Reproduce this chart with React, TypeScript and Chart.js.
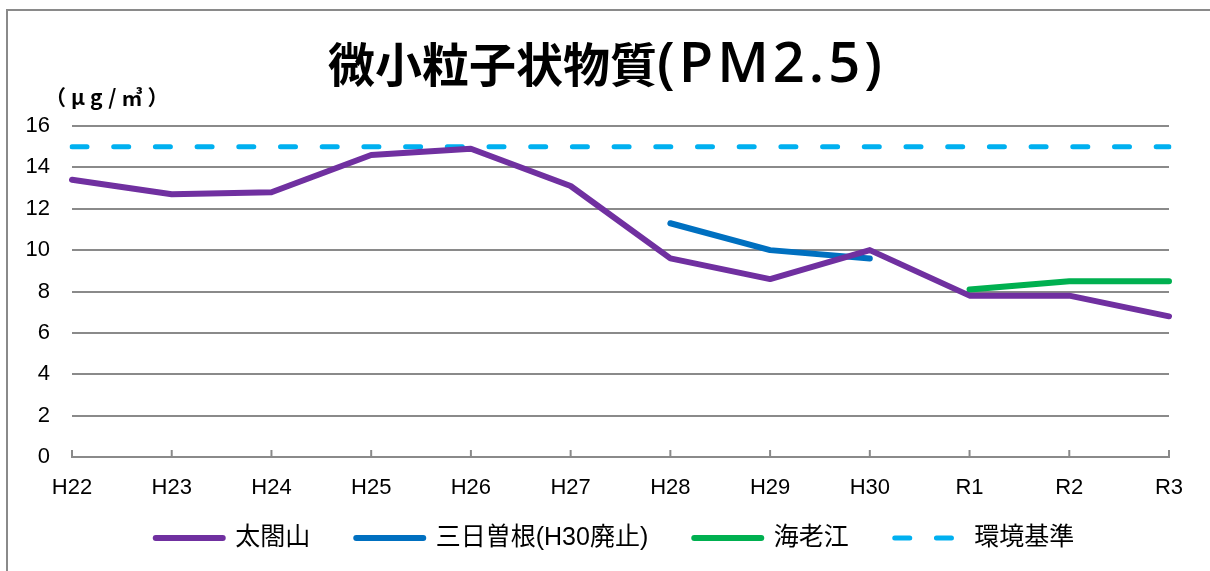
import React, { useEffect, useRef } from "react";
import { Chart, registerables } from "chart.js";

Chart.register(...registerables);

const categories = ["H22", "H23", "H24", "H25", "H26", "H27", "H28", "H29", "H30", "R1", "R2", "R3"];
const taikoyama = [13.4, 12.7, 12.8, 14.6, 14.9, 13.1, 9.6, 8.6, 10.0, 7.8, 7.8, 6.8];
const mikkasone = [null, null, null, null, null, null, 11.3, 10.0, 9.6, null, null, null];
const ebie = [null, null, null, null, null, null, null, null, null, 8.1, 8.5, 8.5];
const standard = [15, 15, 15, 15, 15, 15, 15, 15, 15, 15, 15, 15];
const seriesNames = ["太閤山", "三日曽根(H30廃止)", "海老江", "環境基準"];
const yMin = 0;
const yMax = 16;
const yStep = 2;
const titleMain = "微小粒子状物質";
const titleSub = "(PM2.5)";
const unitText = "（μg/㎥）";

const GRID = "#8a8a8a";
const LATIN = '"Liberation Sans", Arial, "Noto Sans CJK JP", sans-serif';
const LEGEND_PAD = 46;
const LEGEND_FONT = 25;
const LEGEND_CENTER_Y = 538;
const LEGEND_SHIFT = 20;

const extrasPlugin = {
  id: "extras",
  afterLayout(chart: any) {
    const lg = chart.legend;
    if (lg) {
      lg.top = LEGEND_CENTER_Y - LEGEND_PAD - LEGEND_FONT / 2;
      lg.bottom = chart.height;
      lg.height = lg.bottom - lg.top;
      lg.left += LEGEND_SHIFT;
      lg.right = chart.width;
      lg.width = lg.right - lg.left;
    }
  },
  beforeDatasetsDraw(chart: any) {
    const { ctx, chartArea, scales } = chart;
    const xs = scales.x;
    ctx.save();
    ctx.strokeStyle = GRID;
    ctx.lineWidth = 2;
    for (let i = 0; i < xs.ticks.length; i++) {
      const px = xs.getPixelForTick(i);
      ctx.beginPath();
      ctx.moveTo(px, chartArea.bottom);
      ctx.lineTo(px, chartArea.bottom - 7);
      ctx.stroke();
    }
    ctx.restore();
  },
  afterDraw(chart: any) {
    const { ctx, chartArea } = chart;
    // title
    ctx.save();
    ctx.fillStyle = "#000";
    ctx.textAlign = "left";
    ctx.textBaseline = "alphabetic";
    const fontA = 'bold 47px "Noto Sans CJK JP", sans-serif';
    const fontB = '600 56px "Open Sans", "Liberation Sans", sans-serif';
    ctx.font = fontA;
    (ctx as any).letterSpacing = "0px";
    const wA = ctx.measureText(titleMain).width;
    ctx.font = fontB;
    (ctx as any).letterSpacing = "4px";
    const wB = ctx.measureText(titleSub).width;
    const x0 = (chart.width - wA - wB) / 2 + 2;
    ctx.font = fontA;
    (ctx as any).letterSpacing = "0px";
    ctx.fillText(titleMain, x0, 82);
    ctx.font = fontB;
    (ctx as any).letterSpacing = "4px";
    ctx.fillText(titleSub, x0 + wA, 82);
    ctx.restore();

    // unit label
    ctx.save();
    ctx.font = 'bold 21px "Noto Sans CJK JP", sans-serif';
    (ctx as any).letterSpacing = "5px";
    ctx.fillStyle = "#000";
    ctx.textAlign = "left";
    ctx.textBaseline = "middle";
    ctx.fillText(unitText, chartArea.left - 27, chartArea.top - 29);
    ctx.restore();
  },
};

export default function App() {
  const ref = useRef<HTMLCanvasElement | null>(null);
  useEffect(() => {
    if (!ref.current) return;
    const chart = new Chart(ref.current, {
      type: "line",
      data: {
        labels: categories,
        datasets: [
          {
            label: seriesNames[0],
            data: taikoyama,
            borderColor: "#7030A0",
            backgroundColor: "#7030A0",
            borderWidth: 6,
            pointRadius: 0,
            borderJoinStyle: "round",
            borderCapStyle: "round",
          },
          {
            label: seriesNames[1],
            data: mikkasone,
            borderColor: "#0070C0",
            backgroundColor: "#0070C0",
            borderWidth: 6,
            pointRadius: 0,
            borderJoinStyle: "round",
            borderCapStyle: "round",
          },
          {
            label: seriesNames[2],
            data: ebie,
            borderColor: "#00B050",
            backgroundColor: "#00B050",
            borderWidth: 6,
            pointRadius: 0,
            borderJoinStyle: "round",
            borderCapStyle: "round",
          },
          {
            label: seriesNames[3],
            data: standard,
            borderColor: "#00B0F0",
            backgroundColor: "#00B0F0",
            borderWidth: 5,
            borderDash: [15, 26.7],
            borderCapStyle: "round",
            pointRadius: 0,
          },
        ] as any,
      },
      options: {
        animation: false,
        responsive: false,
        maintainAspectRatio: false,
        layout: { padding: { top: 126, left: 0, right: 41, bottom: 14 } },
        plugins: {
          title: { display: false },
          legend: {
            position: "bottom",
            maxHeight: 40,
            labels: {
              usePointStyle: true,
              pointStyle: "line",
              pointStyleWidth: 67,
              boxHeight: 5,
              padding: LEGEND_PAD,
              color: "#000",
              font: { family: LATIN, size: LEGEND_FONT },
              generateLabels: (chart: any) => {
                const items = Chart.defaults.plugins.legend.labels.generateLabels(chart);
                return items.map((it: any) => {
                  const ds: any = chart.data.datasets[it.datasetIndex];
                  return {
                    ...it,
                    lineDash: ds.borderDash || [],
                    lineCap: "round",
                    lineWidth: ds.borderWidth,
                    strokeStyle: ds.borderColor,
                  };
                });
              },
            },
          },
          tooltip: { enabled: false },
        },
        scales: {
          x: {
            afterFit: (s: any) => {
              s.height = 60;
            },
            grid: { display: false },
            border: { display: true, color: GRID, width: 2 },
            ticks: {
              color: "#000",
              font: { family: LATIN, size: 22 },
              padding: 10,
              maxRotation: 0,
              autoSkip: false,
            },
          },
          y: {
            min: yMin,
            max: yMax,
            afterFit: (s: any) => {
              s.width = 72;
            },
            grid: { color: GRID, lineWidth: 2, drawTicks: false },
            border: { display: false },
            ticks: {
              stepSize: yStep,
              color: "#000",
              font: { family: LATIN, size: 22 },
              padding: 22,
            },
          },
        },
      } as any,
      plugins: [extrasPlugin],
    });
    return () => chart.destroy();
  }, []);

  return (
    <div
      style={{
        position: "fixed",
        left: 0,
        top: 0,
        width: 1210,
        height: 571,
        overflow: "hidden",
        background: "#fff",
      }}
    >
      <div
        style={{
          position: "absolute",
          left: 6,
          top: 9,
          width: 1300,
          height: 700,
          border: "2px solid #8a8a8a",
        }}
      />
      <canvas
        ref={ref}
        width={1210}
        height={571}
        style={{ position: "absolute", left: 0, top: 0, width: 1210, height: 571 }}
      />
    </div>
  );
}
